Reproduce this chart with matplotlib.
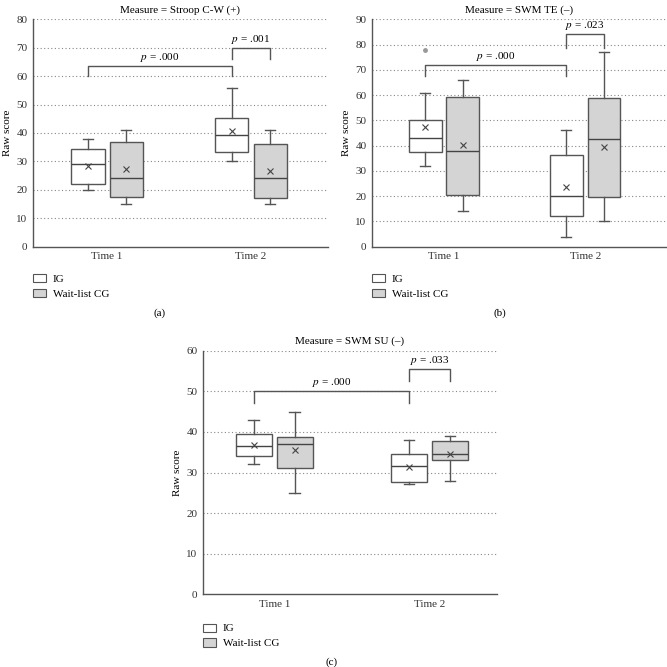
import matplotlib
matplotlib.use("Agg")
import matplotlib.pyplot as plt
from matplotlib.patches import Patch

plt.rcParams["font.family"] = ["Liberation Serif", "DejaVu Serif"]
plt.rcParams["mathtext.fontset"] = "stix"
plt.rcParams["font.size"] = 8

# box statistics per panel: [IG T1, CG T1, IG T2, CG T2]
# each as (whislo, q1, med, q3, whishi, mean)
titles = ["Measure = Stroop C-W (+)", "Measure = SWM TE (\u2013)", "Measure = SWM SU (\u2013)"]
panel_labels = ["(a)", "(b)", "(c)"]
time_labels = ["Time 1", "Time 2"]
group_labels = ["IG", "Wait-list CG"]

stroop_stats = [(20, 22, 29, 34.3, 38, 28.5),
                (15, 17.6, 24, 36.8, 41, 27.2),
                (30, 33.2, 39.2, 45.4, 56, 40.7),
                (15, 17.3, 24, 36, 41, 26.5)]
swm_te_stats = [(32, 37.5, 43, 50, 61, 47.5),
                (14, 20.3, 38, 59.3, 66, 40.3),
                (4, 12, 20, 36.3, 46, 23.5),
                (10, 19.6, 42.5, 59, 77, 39.5)]
swm_su_stats = [(32, 34, 36.6, 39.4, 43, 36.7),
                (25, 31, 37, 38.8, 45, 35.6),
                (27.2, 27.6, 31.5, 34.5, 38, 31.4),
                (28, 33.2, 34.5, 37.7, 39, 34.5)]
swm_te_fliers = [[78], [], [], []]

# brackets: (p text, box index from, box index to, bar height, leg bottom)
stroop_brackets = [("= .000", 0, 2, 63.5, 60), ("= .001", 2, 3, 70, 66)]
swm_te_brackets = [("= .000", 0, 2, 72, 67.5), ("= .023", 2, 3, 84, 78.5)]
swm_su_brackets = [("= .000", 0, 2, 50, 47), ("= .033", 2, 3, 55.5, 52.5)]

y_max = [80, 90, 60]

all_stats = [stroop_stats, swm_te_stats, swm_su_stats]
all_fliers = [[[], [], [], []], swm_te_fliers, [[], [], [], []]]
all_brackets = [stroop_brackets, swm_te_brackets, swm_su_brackets]

W = H = 667
# axes boxes in pixels: left, right, top, bottom
ax_px = [(33, 328, 19.3, 246.7), (372, 667, 19.3, 246.7), (203, 497, 350.7, 594.3)]
xlims = [(-0.03, 4.07), (-0.02, 4.16), (0.08, 3.87)]
label_px = [(160, 313), (500, 313), (332, 662)]

edge = "#555555"
gray_fill = "#d4d4d4"
positions = [1 - 0.265, 1 + 0.265, 3 - 0.265, 3 + 0.265]
fills = ["white", gray_fill, "white", gray_fill]

fig = plt.figure(figsize=(W / 100, H / 100), dpi=100)

for i in range(3):
    l, r, t, b = ax_px[i]
    ax = fig.add_axes([l / W, (H - b) / H, (r - l) / W, (b - t) / H])
    stats = []
    for s, fl in zip(all_stats[i], all_fliers[i]):
        stats.append(dict(whislo=s[0], q1=s[1], med=s[2], q3=s[3], whishi=s[4], mean=s[5], fliers=fl))
    bp = ax.bxp(stats, positions=positions, widths=0.46, capwidths=0.14,
                patch_artist=True, showmeans=True, manage_ticks=False,
                boxprops=dict(edgecolor=edge, linewidth=1),
                whiskerprops=dict(color=edge, linewidth=1),
                capprops=dict(color=edge, linewidth=1),
                medianprops=dict(color="#444444", linewidth=1),
                meanprops=dict(marker="x", markeredgecolor="#444444", markersize=5, markeredgewidth=0.8),
                flierprops=dict(marker="o", markersize=2.5, markerfacecolor="#999999",
                                markeredgecolor="#999999"))
    for patch, fc in zip(bp["boxes"], fills):
        patch.set_facecolor(fc)

    for txt, a, c, yb, yl in all_brackets[i]:
        xa, xc = positions[a], positions[c]
        ax.plot([xa, xa, xc, xc], [yl, yb, yb, yl], color=edge, linewidth=1)
        ax.annotate("$p$ " + txt, ((xa + xc) / 2, yb), xytext=(0, 1.5),
                    textcoords="offset points", ha="center", va="bottom", fontsize=8)

    ax.set_xlim(*xlims[i])
    ax.set_ylim(0, y_max[i])
    ax.set_yticks(range(0, y_max[i] + 1, 10))
    ax.set_xticks([1, 3])
    ax.set_xticklabels(time_labels)
    ax.tick_params(length=0, pad=4, labelsize=8, colors="#333333")
    for yv in range(10, y_max[i] + 1, 10):
        ax.axhline(yv, color="#888888", linestyle=(0, (1, 2.2)), linewidth=0.8, zorder=0)
    for side in ["top", "right"]:
        ax.spines[side].set_visible(False)
    for side in ["left", "bottom"]:
        ax.spines[side].set_color(edge)
        ax.spines[side].set_linewidth(1)
    ax.set_ylabel("Raw score", labelpad=3)
    ax.set_title(titles[i], fontsize=8, pad=5)

    handles = [Patch(facecolor="white", edgecolor=edge, linewidth=0.8),
               Patch(facecolor=gray_fill, edgecolor=edge, linewidth=0.8)]
    ax.legend(handles, group_labels, loc="upper left",
              bbox_to_anchor=(0, -0.12), frameon=False, borderpad=0, borderaxespad=0,
              handlelength=1.2, handleheight=0.75, handletextpad=0.6, labelspacing=0.45,
              fontsize=8)

    lx, ly = label_px[i]
    fig.text(lx / W, 1 - ly / H, panel_labels[i], ha="center", va="center", fontsize=8)

fig.savefig("out.png", dpi=100)
